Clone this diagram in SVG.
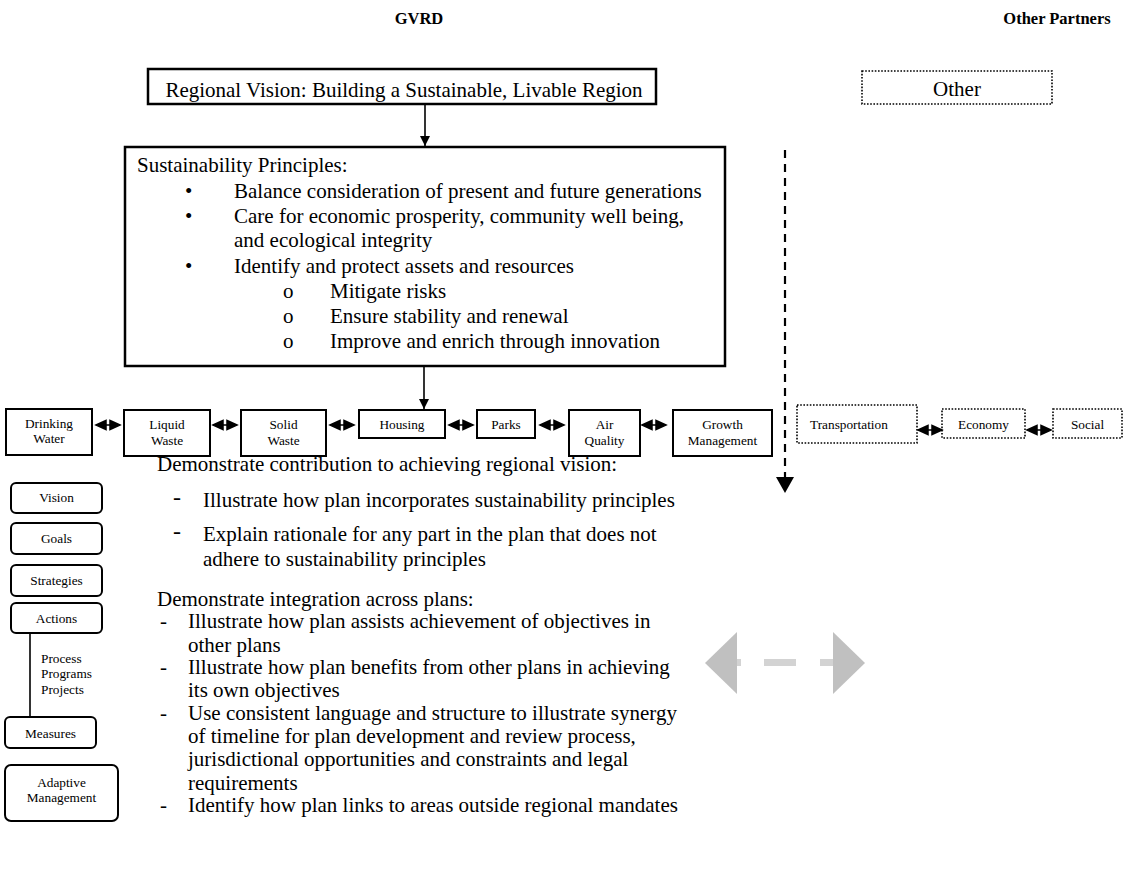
<svg xmlns="http://www.w3.org/2000/svg" width="1127" height="877" viewBox="0 0 1127 877">
<defs>
<style>
text{font-family:"Liberation Serif","Times New Roman",serif;fill:#000}
.hd{font-size:16.5px;font-weight:bold;text-anchor:middle}
.b{font-size:21px}
.s{font-size:13.3px}
.c{text-anchor:middle}
.box{fill:#fff;stroke:#000;stroke-width:2.5}
.sb{fill:#fff;stroke:#000;stroke-width:2}
.dot{fill:#fff;stroke:#000;stroke-width:1.6;stroke-dasharray:1.6 1.6}
.rb{fill:#fff;stroke:#000;stroke-width:2}
.ln{stroke:#000;stroke-width:1.6;fill:none}
</style>
<path id="dbl" d="M0,0 L10,-4.5 L10,4.5 Z M24,0 L14,-4.5 L14,4.5 Z M9,0 H15" fill="#000" stroke="#000" stroke-width="1.5"/>
<marker id="ah" viewBox="0 0 10 10" refX="10" refY="5" markerWidth="10" markerHeight="10" markerUnits="userSpaceOnUse" orient="auto"><path d="M0,0 L10,5 L0,10 Z" fill="#000"/></marker>
</defs>
<rect width="1127" height="877" fill="#fff"/>
<text class="hd" x="419" y="24">GVRD</text>
<text class="hd" x="1057" y="24">Other Partners</text>

<g id="vision-box"><rect class="box" x="148" y="69" width="508" height="35"/><text class="b c" x="404" y="97">Regional Vision: Building a Sustainable, Livable Region</text></g>
<g id="other-box"><rect class="dot" x="862" y="71" width="190" height="33"/><text class="b c" x="957" y="96">Other</text></g>

<g id="principles-box"><rect class="box" x="125" y="147" width="600" height="219"/>
<text class="b" x="137" y="172">Sustainability Principles:</text>
<text class="b" x="185" y="198">•</text><text class="b" x="234" y="198">Balance consideration of present and future generations</text>
<text class="b" x="185" y="223">•</text><text class="b" x="234" y="223">Care for economic prosperity, community well being,</text>
<text class="b" x="234" y="247">and ecological integrity</text>
<text class="b" x="185" y="273">•</text><text class="b" x="234" y="273">Identify and protect assets and resources</text>
<text class="b" x="283" y="298">o</text><text class="b" x="330" y="298">Mitigate risks</text>
<text class="b" x="283" y="323">o</text><text class="b" x="330" y="323">Ensure stability and renewal</text>
<text class="b" x="283" y="348">o</text><text class="b" x="330" y="348">Improve and enrich through innovation</text>
</g>

<g id="drinking-water"><rect class="sb" x="6" y="409" width="86" height="46"/><text class="s c" x="49" y="428">Drinking</text><text class="s c" x="49" y="443">Water</text></g>
<g id="liquid-waste"><rect class="sb" x="124" y="410" width="86" height="46"/><text class="s c" x="167" y="429">Liquid</text><text class="s c" x="167" y="445">Waste</text></g>
<g id="solid-waste"><rect class="sb" x="241" y="410" width="85" height="46"/><text class="s c" x="283.5" y="429">Solid</text><text class="s c" x="283.5" y="445">Waste</text></g>
<g id="housing"><rect class="sb" x="359" y="410" width="86" height="28"/><text class="s c" x="402" y="429">Housing</text></g>
<g id="parks"><rect class="sb" x="477" y="410" width="58" height="28"/><text class="s c" x="506" y="429">Parks</text></g>
<g id="air-quality"><rect class="sb" x="569" y="410" width="71" height="46"/><text class="s c" x="604.5" y="429">Air</text><text class="s c" x="604.5" y="445">Quality</text></g>
<g id="growth-management"><rect class="sb" x="673" y="410" width="99" height="46"/><text class="s c" x="722.5" y="429">Growth</text><text class="s c" x="722.5" y="445">Management</text></g>
<g id="transportation"><rect class="dot" x="797" y="405" width="120" height="38"/><text class="s" x="810" y="429">Transportation</text></g>
<g id="economy"><rect class="dot" x="942" y="409" width="83" height="29"/><text class="s c" x="983.5" y="429">Economy</text></g>
<g id="social"><rect class="dot" x="1053" y="409" width="69" height="29"/><text class="s c" x="1087.5" y="429">Social</text></g>

<g id="vision"><rect class="rb" x="11" y="483" width="91" height="30" rx="5"/><text class="s c" x="56.5" y="502">Vision</text></g>
<g id="goals"><rect class="rb" x="11" y="523" width="91" height="31" rx="5"/><text class="s c" x="56.5" y="543">Goals</text></g>
<g id="strategies"><rect class="rb" x="11" y="565" width="91" height="31" rx="5"/><text class="s c" x="56.5" y="585">Strategies</text></g>
<g id="actions"><rect class="rb" x="11" y="603" width="91" height="30" rx="5"/><text class="s c" x="56.5" y="623">Actions</text></g>
<g id="process-label"><text class="s" x="41" y="663">Process</text><text class="s" x="41" y="678">Programs</text><text class="s" x="41" y="694">Projects</text></g>
<g id="measures"><rect class="rb" x="5" y="717" width="91" height="31" rx="5"/><text class="s c" x="50.5" y="738">Measures</text></g>
<g id="adaptive-management"><rect class="rb" x="5" y="765" width="113" height="56" rx="6"/><text class="s c" x="61.5" y="787">Adaptive</text><text class="s c" x="61.5" y="802">Management</text></g>

<g id="requirements-text">
<text class="b" x="157" y="471">Demonstrate contribution to achieving regional vision:</text>
<text class="b" x="173" y="505" style="font-size:24px">-</text><text class="b" x="203" y="507">Illustrate how plan incorporates sustainability principles</text>
<text class="b" x="173" y="539" style="font-size:24px">-</text><text class="b" x="203" y="541">Explain rationale for any part in the plan that does not</text>
<text class="b" x="203" y="566">adhere to sustainability principles</text>
<text class="b" x="157" y="606">Demonstrate integration across plans:</text>
<text class="b" x="160" y="628">-</text><text class="b" x="188" y="628">Illustrate how plan assists achievement of objectives in</text>
<text class="b" x="188" y="652">other plans</text>
<text class="b" x="160" y="674">-</text><text class="b" x="188" y="674">Illustrate how plan benefits from other plans in achieving</text>
<text class="b" x="188" y="697">its own objectives</text>
<text class="b" x="160" y="720">-</text><text class="b" x="188" y="720">Use consistent language and structure to illustrate synergy</text>
<text class="b" x="188" y="743">of timeline for plan development and review process,</text>
<text class="b" x="188" y="766">jurisdictional opportunities and constraints and legal</text>
<text class="b" x="188" y="790">requirements</text>
<text class="b" x="160" y="812">-</text><text class="b" x="188" y="812">Identify how plan links to areas outside regional mandates</text>
</g>

<g id="connectors">
<line class="ln" x1="425" y1="104" x2="425" y2="146" marker-end="url(#ah)"/>
<line class="ln" x1="424" y1="366" x2="424" y2="409" marker-end="url(#ah)"/>
<line x1="785" y1="150" x2="785" y2="478" stroke="#000" stroke-width="2.2" stroke-dasharray="8 6"/>
<path d="M776,477 L794,477 L785,493 Z" fill="#000"/>
<line class="ln" x1="30" y1="633" x2="30" y2="717"/>
<use href="#dbl" x="96" y="425"/>
<use href="#dbl" x="213" y="425"/>
<use href="#dbl" x="330" y="425"/>
<use href="#dbl" x="449" y="425"/>
<use href="#dbl" x="540" y="425"/>
<use href="#dbl" x="642" y="425"/>
<use href="#dbl" x="918" y="430"/>
<use href="#dbl" x="1027" y="430"/>
<g id="gray-arrow">
<rect x="737" y="659" width="4" height="7" fill="#d3d3d3"/>
<rect x="764" y="659" width="32" height="7" fill="#d3d3d3"/>
<rect x="820" y="659" width="14" height="7" fill="#d3d3d3"/>
<polygon points="705,663 737,632 737,694" fill="#c0c0c0"/>
<polygon points="865,663 833,632 833,694" fill="#c0c0c0"/>
</g>
</g>
</svg>
